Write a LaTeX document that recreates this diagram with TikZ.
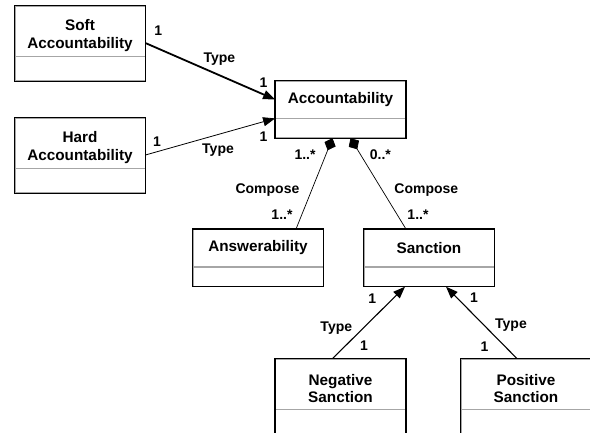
\documentclass[tikz,border=0pt]{standalone}
\usepackage{fontspec}
\setmainfont{Liberation Sans}
\usetikzlibrary{arrows.meta}
\usetikzlibrary{positioning}

\newcommand{\lowstrut}{\rule{0pt}{20pt}}

\begin{document}
\begin{tikzpicture}[
	x=1pt,y=-1pt,
	cname/.style={
		draw=gray!70,line width=0.8pt,
		minimum width=130pt,
		text centered,
		align=center,
		inner sep=0pt,
		font=\fontsize{15.3}{17.5}\selectfont\bfseries
	},
	cattr/.style={
		draw=gray!70,line width=0.8pt,
		minimum width=130pt,
		inner sep=0pt
	},
	classframe/.style={line width=1.3pt},
	lbl/.style={inner sep=1pt,font=\fontsize{14}{16}\selectfont\bfseries},
	typeof/.style={-{Triangle[length=12pt,width=9pt]}},
	compose/.style={-{Diamond[length=13pt,width=12pt]},line width=0.7pt},
	node distance=0pt
]
\clip (0,0) rectangle (590,432);

% classes
\node [cname,minimum height=50pt] (soft) at (80,31) {\lowstrut Soft\\Accountability};
\node [cattr,minimum height=24pt,below=of soft] (softattr) {};
\draw [classframe] (soft.north west) rectangle (softattr.south east);

\node [cname,minimum height=50pt] (hard) at (80,143) {\lowstrut Hard\\Accountability};
\node [cattr,minimum height=24pt,below=of hard] (hardattr) {};
\draw [classframe] (hard.north west) rectangle (hardattr.south east);

\node [cname,minimum height=37pt] (acc) at (340.5,99.5) {Accountability};
\node [cattr,minimum height=19pt,below=of acc] (accattr) {};
\draw [classframe] (acc.north west) rectangle (accattr.south east);

\node [cname,minimum height=37pt] (answ) at (258,248) {Answerability};
\node [cattr,minimum height=19pt,below=of answ] (answattr) {};
\draw [classframe] (answ.north west) rectangle (answattr.south east);

\node [cname,minimum height=37pt] (sanc) at (429,248) {Sanction};
\node [cattr,minimum height=19pt,below=of sanc] (sancattr) {};
\draw [classframe] (sanc.north west) rectangle (sancattr.south east);

\node [cname,minimum height=50pt] (negsanc) at (340.5,384) {\lowstrut Negative\\Sanction};
\node [cattr,minimum height=30pt,below=of negsanc] (negattr) {};
\draw [classframe] (negsanc.north west) rectangle (negattr.south east);

\node [cname,minimum height=50pt] (possanc) at (526,384) {\lowstrut Positive\\Sanction};
\node [cattr,minimum height=30pt,below=of possanc] (posattr) {};
\draw [classframe] (possanc.north west) rectangle (posattr.south east);

% type links
\draw [typeof,line width=1.8pt] ([yshift=-12pt]soft.east) -- (acc.west)
	node [lbl,pos=0.1,above=11pt] {1}
	node [lbl,pos=0.57,above=8pt] {Type}
	node [lbl,pos=0.91,above=5pt] {1};
\draw [typeof,line width=0.8pt] ([yshift=-12pt]hard.east) -- (acc.south west)
	node [lbl,pos=0.09,above=4pt] {1}
	node [lbl,pos=0.56,below=8pt] {Type}
	node [lbl,pos=0.91,below=9pt] {1};

% compose links
\draw [compose] ([xshift=38pt]answ.north) -- ([xshift=-8pt]accattr.south)
	node [lbl,pos=0.16,left=8pt] {1..*}
	node [lbl,pos=0.43,left=11pt] {Compose}
	node [lbl,pos=0.82,left=9pt] {1..*};
\draw [compose] ([xshift=-23pt]sanc.north) -- ([xshift=10pt]accattr.south)
	node [lbl,pos=0.16,right=9pt] {1..*}
	node [lbl,pos=0.43,right=11pt] {Compose}
	node [lbl,pos=0.82,right=8pt] {0..*};

% sanction kinds
\draw [typeof,line width=1.1pt] ([xshift=-8pt]negsanc.north) -- ([xshift=-24pt]sancattr.south)
	node [lbl,pos=0.18,right=13pt] {1}
	node [lbl,pos=0.43,left=10pt] {Type}
	node [lbl,pos=0.83,left=15pt] {1};
\draw [typeof,line width=1.1pt] ([xshift=-9pt]possanc.north) -- ([xshift=17pt]sancattr.south)
	node [lbl,pos=0.17,left=15pt] {1}
	node [lbl,pos=0.47,right=10pt] {Type}
	node [lbl,pos=0.85,right=12pt] {1};
\end{tikzpicture}
\end{document}
